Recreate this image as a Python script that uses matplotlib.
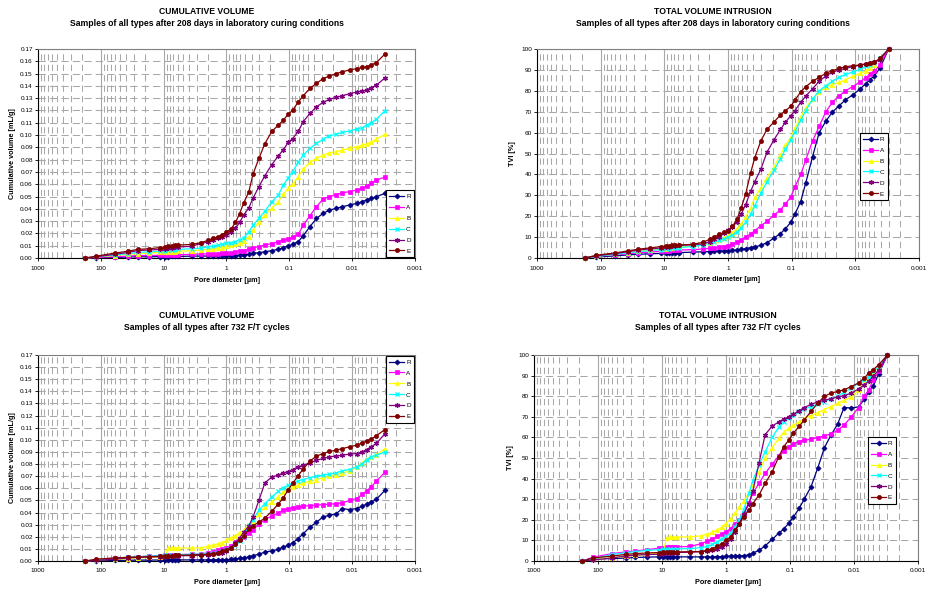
import matplotlib
matplotlib.use('Agg')
import matplotlib.pyplot as plt

plt.rcParams['font.family'] = ['Liberation Sans', 'DejaVu Sans']

# ---------------- data ----------------
diam = [176, 118, 60, 37, 26, 17, 11.3, 9.5, 8.5, 7.5,
        6.7, 5.9, 3.6, 2.5, 1.95, 1.63, 1.36, 1.16, 1.0, 0.85,
        0.72, 0.62, 0.53, 0.44, 0.38, 0.305, 0.245, 0.19, 0.15, 0.125,
        0.104, 0.089, 0.072, 0.06, 0.047, 0.037, 0.029, 0.023, 0.018, 0.0143,
        0.011, 0.0085, 0.0069, 0.0059, 0.005, 0.0041, 0.003]

series_names = ['R', 'A', 'B', 'C', 'D', 'E']
x_tick_values = [1000, 100, 10, 1, 0.1, 0.01, 0.001]
x_tick_labels = ['1000', '100', '10', '1', '0.1', '0.01', '0.001']

# cumulative volume [mL/g], 208 days laboratory curing
cv208_R = [0, 0.0003, 0.0005, 0.0008, 0.001, 0.001, 0.0011, 0.0012, 0.0012, 0.0013,
           0.0013, 0.0013, 0.0015, 0.0016, 0.0016, 0.0017, 0.0017, 0.0018, 0.0018, 0.0019,
           0.0019, 0.0022, 0.0024, 0.003, 0.0038, 0.0043, 0.0051, 0.006, 0.007, 0.0084,
           0.0098, 0.0111, 0.0133, 0.0182, 0.0255, 0.0322, 0.0363, 0.039, 0.0404, 0.0417,
           0.0431, 0.0444, 0.0458, 0.0472, 0.0485, 0.0499, 0.0526]
cv208_A = [0, 0.0005, 0.001, 0.0015, 0.002, 0.002, 0.0022, 0.0023, 0.0024, 0.0025,
           0.0025, 0.0026, 0.003, 0.0032, 0.0034, 0.0035, 0.0036, 0.0037, 0.0039, 0.0042,
           0.0048, 0.0055, 0.006, 0.0073, 0.0084, 0.0092, 0.0106, 0.0117, 0.0133, 0.0146,
           0.0157, 0.0168, 0.0192, 0.0268, 0.0344, 0.0417, 0.048, 0.0499, 0.0515, 0.0531,
           0.0539, 0.0553, 0.0566, 0.0583, 0.0607, 0.0634, 0.0659]
cv208_B = [0, 0.0008, 0.002, 0.003, 0.0035, 0.004, 0.0045, 0.0047, 0.005, 0.005,
           0.0052, 0.0055, 0.006, 0.0065, 0.007, 0.0075, 0.008, 0.0085, 0.0095, 0.0105,
           0.0115, 0.0125, 0.014, 0.0173, 0.0228, 0.0295, 0.035, 0.0404, 0.0458, 0.0518,
           0.0566, 0.0599, 0.0661, 0.0724, 0.0778, 0.081, 0.0837, 0.0856, 0.0864, 0.0878,
           0.0892, 0.0905, 0.0919, 0.0927, 0.0946, 0.0967, 0.1005]
cv208_C = [0, 0.001, 0.0025, 0.0035, 0.0045, 0.005, 0.0055, 0.006, 0.0063, 0.0065,
           0.0068, 0.007, 0.0075, 0.008, 0.009, 0.0095, 0.0105, 0.011, 0.012, 0.0125,
           0.0133, 0.015, 0.0165, 0.0214, 0.0268, 0.0322, 0.0382, 0.0458, 0.0512, 0.0593,
           0.0653, 0.0702, 0.0778, 0.0837, 0.0892, 0.0932, 0.0967, 0.0995, 0.1005, 0.1022,
           0.1033, 0.1049, 0.106, 0.1081, 0.11, 0.113, 0.1198]
cv208_D = [0, 0.001, 0.003, 0.0045, 0.006, 0.0065, 0.007, 0.0075, 0.008, 0.0085,
           0.009, 0.009, 0.0095, 0.012, 0.013, 0.0146, 0.016, 0.0173, 0.019, 0.021,
           0.024, 0.029, 0.035, 0.041, 0.0485, 0.058, 0.067, 0.076, 0.083, 0.088,
           0.094, 0.097, 0.103, 0.111, 0.1176, 0.123, 0.1266, 0.129, 0.1306, 0.132,
           0.1336, 0.135, 0.1358, 0.1366, 0.1385, 0.1407, 0.1466]
cv208_E = [0, 0.0015, 0.004, 0.0055, 0.007, 0.0075, 0.0085, 0.009, 0.0095, 0.01,
           0.0103, 0.0105, 0.011, 0.0125, 0.0145, 0.016, 0.0173, 0.019, 0.0214, 0.0233,
           0.029, 0.036, 0.045, 0.054, 0.068, 0.081, 0.093, 0.103, 0.108, 0.112,
           0.117, 0.12, 0.127, 0.132, 0.138, 0.142, 0.146, 0.148, 0.15, 0.1515,
           0.153, 0.154, 0.155, 0.1555, 0.157, 0.159, 0.166]

# total volume intrusion [%], 208 days laboratory curing
tvi208_R = [0, 0.5, 1, 1.5, 1.8, 2, 2.2, 2.3, 2.4, 2.5,
            2.5, 2.6, 2.8, 3, 3.1, 3.2, 3.3, 3.4, 3.5, 3.6,
            3.8, 4.1, 4.5, 5, 5.3, 6.1, 7.3, 9.5, 11.7, 14,
            17, 21, 27, 36, 48.5, 60, 65.5, 69.8, 72.8, 75.7,
            78, 80.8, 83.3, 85.3, 87.2, 90.9, 100]
tvi208_A = [0, 0.8, 1.5, 2, 2.5, 2.8, 3.2, 3.4, 3.5, 3.6,
            3.7, 3.8, 4, 4.3, 4.6, 4.9, 5.2, 5.5, 5.9, 6.5,
            7.5, 8.8, 10, 11.5, 13, 15.5, 17.5, 20.5, 23, 26,
            29, 34, 40, 47, 56, 63, 70, 74.5, 77.5, 80,
            82, 84.2, 86.3, 87.8, 89.5, 92.5, 100]
tvi208_B = [0, 0.8, 1.8, 2.6, 3.2, 3.6, 4.2, 4.5, 4.7, 4.9,
            5.1, 5.3, 5.8, 6.5, 7.2, 8, 8.8, 9.6, 10.5, 12,
            14, 16.5, 19.5, 24, 29, 33.5, 38.5, 43.5, 49.5, 54,
            57.5, 62, 67.5, 72, 76, 79.5, 81.8, 83, 84, 85.3,
            86.9, 88.3, 89.5, 90.7, 92.5, 95, 100]
tvi208_C = [0, 0.8, 1.8, 2.5, 3, 3.5, 4, 4.2, 4.4, 4.6,
            4.8, 5, 5.5, 6.2, 7, 7.8, 8.5, 9.2, 10, 11,
            12.5, 14.5, 17, 21, 25, 31, 36.5, 42, 47.5, 52,
            56.5, 60.5, 66, 70.5, 76, 80, 82.5, 84.5, 86.5, 87.8,
            89, 90.3, 91.7, 92.5, 93.5, 95.5, 100]
tvi208_D = [0, 1, 2.1, 3, 3.8, 4.3, 4.8, 5.1, 5.3, 5.6,
            5.9, 6, 6.3, 6.7, 7.8, 9.1, 10.2, 11.8, 13.4, 15,
            17.4, 21, 25.5, 32, 36.5, 42.5, 50.5, 56.5, 61.5, 65,
            68, 70.5, 74.5, 77.5, 81, 84.5, 87.2, 88.8, 90, 90.7,
            91.5, 92.3, 92.8, 93.1, 93.9, 94.7, 100]
tvi208_E = [0, 1.3, 2.4, 3.4, 4.2, 4.8, 5.5, 5.7, 5.9, 6,
            6.1, 6.2, 6.5, 7.5, 8.9, 10.2, 11.3, 12.3, 12.8, 15.2,
            18.5, 24, 30.5, 40.8, 48, 56, 61.5, 65, 68.5, 70.5,
            72.5, 75.5, 79.5, 82, 84.5, 86.5, 88.4, 89.6, 90.7, 91.5,
            92, 92.3, 92.8, 93.1, 93.8, 95.5, 100]

# cumulative volume [mL/g], 732 F/T cycles
cv732_R = [0, 0.0004, 0.0005, 0.0006, 0.0007, 0.0008, 0.0008, 0.0008, 0.0008, 0.0008,
           0.0009, 0.0009, 0.0009, 0.0009, 0.0009, 0.001, 0.001, 0.001, 0.0011, 0.0013,
           0.0017, 0.0022, 0.0028, 0.0033, 0.0045, 0.0055, 0.0074, 0.0083, 0.0096, 0.0116,
           0.0129, 0.0149, 0.0185, 0.0226, 0.028, 0.032, 0.0364, 0.0377, 0.039, 0.0433,
           0.0424, 0.0433, 0.0452, 0.047, 0.0485, 0.051, 0.0584]
cv732_A = [0, 0.001, 0.0025, 0.003, 0.0035, 0.004, 0.0045, 0.0047, 0.005, 0.005,
           0.0052, 0.0053, 0.0055, 0.006, 0.0068, 0.0077, 0.0088, 0.0098, 0.011, 0.0125,
           0.0155, 0.018, 0.0198, 0.0231, 0.0259, 0.0303, 0.0342, 0.0372, 0.0397, 0.0419,
           0.043, 0.0441, 0.0446, 0.0452, 0.0457, 0.046, 0.0466, 0.0468, 0.0474, 0.0479,
           0.05, 0.0515, 0.055, 0.058, 0.061, 0.066, 0.0733]
cv732_B = [0, 0.0008, 0.0015, 0.002, 0.0025, 0.003, 0.0035, 0.004, 0.0105, 0.0107,
           0.0107, 0.0107, 0.0107, 0.011, 0.0121, 0.0129, 0.0143, 0.0152, 0.0171, 0.0193,
           0.021, 0.0235, 0.0253, 0.0295, 0.033, 0.0391, 0.0446, 0.0488, 0.0529, 0.057,
           0.0598, 0.0612, 0.0625, 0.0645, 0.0658, 0.0672, 0.0689, 0.07, 0.0713, 0.0727,
           0.0741, 0.0777, 0.081, 0.084, 0.0858, 0.0875, 0.0928]
cv732_C = [0, 0.001, 0.002, 0.003, 0.0035, 0.004, 0.0045, 0.0048, 0.005, 0.005,
           0.0052, 0.0053, 0.0055, 0.0057, 0.006, 0.0065, 0.0075, 0.0085, 0.0095, 0.011,
           0.0135, 0.0165, 0.02, 0.0295, 0.0336, 0.0419, 0.0474, 0.053, 0.0575, 0.0606,
           0.0625, 0.0645, 0.0661, 0.0672, 0.0689, 0.07, 0.0708, 0.0716, 0.0727, 0.0744,
           0.0755, 0.0777, 0.0804, 0.0837, 0.086, 0.0873, 0.09]
cv732_D = [0, 0.0005, 0.0015, 0.0025, 0.003, 0.0033, 0.0035, 0.0037, 0.004, 0.004,
           0.0042, 0.0043, 0.0045, 0.0047, 0.005, 0.0055, 0.0062, 0.007, 0.0085, 0.011,
           0.015, 0.019, 0.024, 0.029, 0.036, 0.05, 0.0645, 0.0694, 0.0708, 0.0727,
           0.0736, 0.0755, 0.0777, 0.079, 0.081, 0.0832, 0.0846, 0.086, 0.0865, 0.0873,
           0.0882, 0.0887, 0.09, 0.092, 0.0942, 0.097, 0.1052]
cv732_E = [0, 0.0015, 0.0025, 0.003, 0.0033, 0.0035, 0.004, 0.0042, 0.0044, 0.0045,
           0.0047, 0.0048, 0.005, 0.0052, 0.0055, 0.006, 0.007, 0.008, 0.009, 0.011,
           0.014, 0.017, 0.021, 0.026, 0.029, 0.032, 0.0355, 0.041, 0.047, 0.052,
           0.059, 0.064, 0.0705, 0.076, 0.0825, 0.0865, 0.0887, 0.0904, 0.0915, 0.0928,
           0.0942, 0.0956, 0.0975, 0.099, 0.1005, 0.1035, 0.1085]

# total volume intrusion [%], 732 F/T cycles
tvi732_R = [0, 1, 1.2, 1.4, 1.7, 1.9, 2, 2, 2, 2,
            2, 2, 2, 2, 2, 2, 2.1, 2.1, 2.2, 2.3,
            2.3, 2.5, 2.6, 3, 3.8, 5.2, 7.3, 10.5, 13.5, 15.5,
            18.5, 21.2, 25.5, 30, 36, 45, 55, 61, 66.5, 74.5,
            74.3, 74.8, 78.5, 82, 85, 91, 100]
tvi732_A = [0, 1.9, 3.6, 4.4, 4.9, 5.5, 6.2, 6.4, 6.6, 6.7,
            6.8, 6.8, 7.1, 8.3, 9.6, 10.8, 12, 13.2, 14.2, 15.7,
            18, 20, 23.5, 28, 33, 37.7, 42.5, 47, 51, 53.5,
            55.5, 56.8, 58, 58.5, 59.2, 59.8, 60.7, 61.7, 63.5, 66,
            70, 74.5, 80, 83, 88, 92, 100]
tvi732_B = [0, 0.8, 1.6, 2.2, 2.7, 3.2, 3.8, 4.3, 11.3, 11.5,
            11.5, 11.6, 11.7, 12.2, 13, 14, 15.2, 16.5, 18.2, 20.5,
            23.5, 26, 29, 33, 37, 43, 50, 55, 59.5, 62.5,
            64.5, 66, 67.5, 69, 70.5, 72, 73.5, 75, 76.5, 78,
            79.5, 83, 86.5, 89.5, 91.5, 94.5, 100]
tvi732_C = [0, 1.1, 3.2, 4, 4.6, 5.1, 5.5, 5.6, 5.7, 5.8,
            5.9, 5.9, 6, 6.5, 7.1, 8.1, 9.3, 10.9, 12, 13.6,
            16.6, 19.8, 24.7, 32.8, 39, 46.6, 53, 60, 65, 67.7,
            69.5, 70.9, 72.6, 73.7, 75, 76.1, 77.4, 78.6, 80.2, 81.8,
            83.9, 86.4, 88, 89.3, 92, 94.5, 100]
tvi732_D = [0, 0.5, 1.5, 2.4, 2.9, 3.1, 3.3, 3.5, 3.7, 3.8,
            4, 4.1, 4.3, 4.5, 4.8, 5.2, 5.9, 6.7, 8.1, 10.5,
            14.3, 18, 22.8, 27.6, 34.2, 47.5, 61.3, 65.5, 67.5, 69,
            70, 71.2, 73, 74.5, 76, 77.2, 78, 78.8, 79.5, 80.3,
            81.5, 83.5, 85.5, 87.2, 89.6, 92.9, 100]
tvi732_E = [0, 1.5, 2.4, 3.2, 3.6, 3.9, 4.1, 4.2, 4.3, 4.3,
            4.4, 4.4, 4.5, 4.6, 5.2, 6, 7.1, 8.4, 10, 11.7,
            15, 18.2, 21.4, 24.7, 27.9, 32, 37.7, 43.3, 50.6, 55.5,
            58.8, 62, 65.3, 68.5, 72.6, 76.6, 79.9, 81.5, 82.3, 83.1,
            84.7, 86.4, 88.8, 91.2, 92.9, 95.3, 100]

# ---------------- styles ----------------
colors = {'R': '#000080', 'A': '#FF00FF', 'B': '#FFFF00',
          'C': '#00FFFF', 'D': '#800080', 'E': '#800000'}
markers = {'R': ('D', 2.6, 0.5), 'A': ('s', 2.7, 0.5), 'B': ('^', 3.2, 0.5),
           'C': ('x', 3.2, 0.9), 'D': ((6, 2, 0), 3.6, 0.9), 'E': ('o', 3.0, 0.5)}

W, H = 928, 591
fig = plt.figure(figsize=(W / 100, H / 100), dpi=100)


def rect(l, t, r, b):
    return [l / W, 1 - b / H, (r - l) / W, (b - t) / H]


GRID_C = '#a8a8a8'


def style_axes(ax, ymax, ystep, yfmt):
    ax.set_xscale('log')
    ax.set_xlim(1000, 0.001)
    ax.set_ylim(0, ymax)
    ax.set_xticks(x_tick_values, x_tick_labels)
    minors = [m * 10.0 ** e for e in range(-3, 3) for m in range(2, 10)]
    ax.set_xticks(minors, minor=True)
    ax.xaxis.set_minor_formatter(plt.NullFormatter())
    n = int(round(ymax / ystep))
    yt = [i * ystep for i in range(n + 1)]
    ax.set_yticks(yt, [yfmt % v for v in yt])
    ax.grid(which='major', axis='x', color=GRID_C, lw=0.8, ls='-')
    ax.grid(which='minor', axis='x', color=GRID_C, lw=0.75, ls=(0, (6, 4)))
    ax.grid(which='major', axis='y', color=GRID_C, lw=0.75, ls=(0, (7, 4)))
    ax.set_axisbelow(True)
    ax.tick_params(which='major', labelsize=4.6, length=2.2, width=0.6,
                   direction='out', color='black')
    ax.tick_params(axis='x', which='major', pad=3.2)
    ax.tick_params(axis='y', which='major', pad=1.5)
    ax.tick_params(which='minor', length=0)
    for s in ('left', 'bottom'):
        ax.spines[s].set_color('black')
        ax.spines[s].set_linewidth(0.8)
    for s in ('top', 'right'):
        ax.spines[s].set_color('#808080')
        ax.spines[s].set_linewidth(0.8)


def draw(ax, data):
    for name, vals in zip(series_names, data):
        m, ms, mew = markers[name]
        ax.plot(diam, vals, color=colors[name], lw=0.9, marker=m, ms=ms,
                mew=mew, mfc=colors[name], mec=colors[name], label=name,
                clip_on=False, zorder=3)


def legend(ax, loc, anchor):
    lg = ax.legend(loc=loc, bbox_to_anchor=anchor, fontsize=4.6,
                   frameon=True, fancybox=False, edgecolor='black',
                   framealpha=1, numpoints=1, handlelength=2.3,
                   handletextpad=0.3, borderpad=0.55, labelspacing=0.85,
                   borderaxespad=0)
    lg.get_frame().set_linewidth(0.8)
    lg.set_zorder(10)


charts = [
    dict(box=(38, 49, 415, 258), data=[cv208_R, cv208_A, cv208_B, cv208_C, cv208_D, cv208_E],
         ymax=0.17, ystep=0.01, fmt='%.2f', leg=('lower right', (0.998, 0.004)),
         title=('CUMULATIVE VOLUME', 'Samples of all types after 208 days in laboratory curing conditions'),
         tx=207, ty=(11, 23), xl=(227, 281), ylab='Cumulative volume [mL/g]', yx=13),
    dict(box=(537, 49, 919, 258), data=[tvi208_R, tvi208_A, tvi208_B, tvi208_C, tvi208_D, tvi208_E],
         ymax=100, ystep=10, fmt='%d', leg=('upper right', (0.919, 0.598)),
         title=('TOTAL VOLUME INTRUSION', 'Samples of all types after 208 days in laboratory curing conditions'),
         tx=713, ty=(11, 23), xl=(727, 280), ylab='TVI [%]', yx=513),
    dict(box=(38, 355, 415, 561), data=[cv732_R, cv732_A, cv732_B, cv732_C, cv732_D, cv732_E],
         ymax=0.17, ystep=0.01, fmt='%.2f', leg=('upper right', (0.998, 0.996)),
         title=('CUMULATIVE VOLUME', 'Samples of all types after 732 F/T cycles'),
         tx=207, ty=(316, 327), xl=(227, 583), ylab='Cumulative volume [mL/g]', yx=13),
    dict(box=(534, 355, 918, 561), data=[tvi732_R, tvi732_A, tvi732_B, tvi732_C, tvi732_D, tvi732_E],
         ymax=100, ystep=10, fmt='%d', leg=('upper right', (0.943, 0.602)),
         title=('TOTAL VOLUME INTRUSION', 'Samples of all types after 732 F/T cycles'),
         tx=718, ty=(316, 327), xl=(728, 583), ylab='TVI [%]', yx=511),
]

for c in charts:
    l, t, r, b = c['box']
    ax = fig.add_axes(rect(l, t, r, b))
    style_axes(ax, c['ymax'], c['ystep'], c['fmt'])
    draw(ax, c['data'])
    legend(ax, *c['leg'])
    fig.text(c['tx'] / W, 1 - c['ty'][0] / H, c['title'][0], ha='center', va='center',
             fontsize=6.2, fontweight='bold')
    fig.text(c['tx'] / W, 1 - c['ty'][1] / H, c['title'][1], ha='center', va='center',
             fontsize=6.2, fontweight='bold')
    fig.text(c['xl'][0] / W, 1 - c['xl'][1] / H, 'Pore diameter [\u00b5m]', ha='center',
             va='center', fontsize=5.2, fontweight='bold')
    fig.text(c['yx'] / W, 1 - ((t + b) / 2) / H, c['ylab'], ha='center', va='center',
             rotation=90, fontsize=5.2, fontweight='bold')

fig.savefig('out.png', dpi=100, facecolor='white')
